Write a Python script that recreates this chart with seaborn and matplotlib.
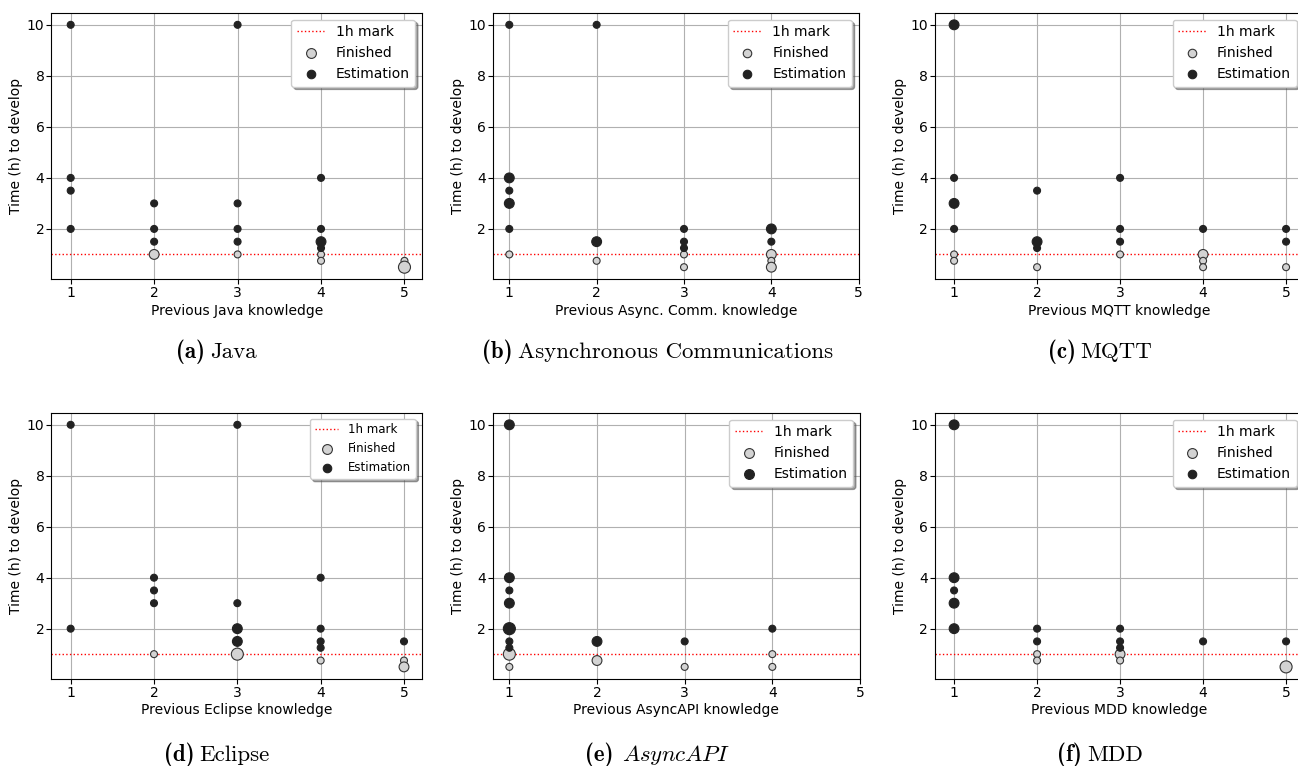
import numpy as np
import seaborn as sns
import matplotlib.pyplot as plt

plt.rcParams['mathtext.fontset'] = 'cm'

# (x = previous knowledge, y = hours, n = how many answers share the point)
java_fin_x = [2, 3, 4, 4, 5, 5]
java_fin_y = [1, 1, 1, 0.75, 0.75, 0.5]
java_fin_n = [2, 1, 1, 1, 1, 3]
java_est_x = [1, 1, 1, 1, 2, 2, 2, 3, 3, 3, 3, 4, 4, 4, 4]
java_est_y = [10, 4, 3.5, 2, 3, 2, 1.5, 10, 3, 2, 1.5, 4, 2, 1.5, 1.25]
java_est_n = [1, 1, 1, 1, 1, 1, 1, 1, 1, 1, 1, 1, 1, 2, 1]

async_fin_x = [1, 2, 3, 3, 4, 4, 4]
async_fin_y = [1, 0.75, 1, 0.5, 1, 0.75, 0.5]
async_fin_n = [1, 1, 1, 1, 2, 1, 2]
async_est_x = [1, 1, 1, 1, 1, 2, 2, 3, 3, 3, 4, 4]
async_est_y = [10, 4, 3.5, 3, 2, 10, 1.5, 2, 1.5, 1.25, 2, 1.5]
async_est_n = [1, 2, 1, 2, 1, 1, 2, 1, 1, 1, 2, 1]

mqtt_fin_x = [1, 1, 2, 3, 4, 4, 4, 5]
mqtt_fin_y = [1, 0.75, 0.5, 1, 1, 0.75, 0.5, 0.5]
mqtt_fin_n = [1, 1, 1, 1, 2, 1, 1, 1]
mqtt_est_x = [1, 1, 1, 1, 2, 2, 2, 3, 3, 3, 4, 5, 5]
mqtt_est_y = [10, 4, 3, 2, 3.5, 1.5, 1.25, 4, 2, 1.5, 2, 2, 1.5]
mqtt_est_n = [2, 1, 2, 1, 1, 2, 1, 1, 1, 1, 1, 1, 1]

eclipse_fin_x = [2, 3, 4, 5, 5]
eclipse_fin_y = [1, 1, 0.75, 0.75, 0.5]
eclipse_fin_n = [1, 3, 1, 1, 2]
eclipse_est_x = [1, 1, 2, 2, 2, 3, 3, 3, 3, 4, 4, 4, 4, 5]
eclipse_est_y = [10, 2, 4, 3.5, 3, 10, 3, 2, 1.5, 4, 2, 1.5, 1.25, 1.5]
eclipse_est_n = [1, 1, 1, 1, 1, 1, 1, 2, 2, 1, 1, 1, 1, 1]

asyncapi_fin_x = [1, 1, 2, 3, 4, 4]
asyncapi_fin_y = [1, 0.5, 0.75, 0.5, 1, 0.5]
asyncapi_fin_n = [3, 1, 2, 1, 1, 1]
asyncapi_est_x = [1, 1, 1, 1, 1, 1, 1, 2, 3, 4]
asyncapi_est_y = [10, 4, 3.5, 3, 2, 1.5, 1.25, 1.5, 1.5, 2]
asyncapi_est_n = [2, 2, 1, 2, 3, 1, 1, 2, 1, 1]

mdd_fin_x = [2, 2, 3, 3, 5]
mdd_fin_y = [1, 0.75, 1, 0.75, 0.5]
mdd_fin_n = [1, 1, 2, 1, 3]
mdd_est_x = [1, 1, 1, 1, 1, 2, 2, 3, 3, 3, 4, 5]
mdd_est_y = [10, 4, 3.5, 3, 2, 2, 1.5, 2, 1.5, 1.25, 1.5, 1.5]
mdd_est_n = [2, 2, 1, 2, 2, 1, 1, 1, 1, 1, 1, 1]

knowledge = ["Java", "Async. Comm.", "MQTT", "Eclipse", "AsyncAPI", "MDD"]
tags = ["(a)", "(b)", "(c)", "(d)", "(e)", "(f)"]
captions = ["Java", "Asynchronous Communications", "MQTT", "Eclipse", r"$AsyncAPI$", "MDD"]
finished = [
    (java_fin_x, java_fin_y, java_fin_n), (async_fin_x, async_fin_y, async_fin_n),
    (mqtt_fin_x, mqtt_fin_y, mqtt_fin_n), (eclipse_fin_x, eclipse_fin_y, eclipse_fin_n),
    (asyncapi_fin_x, asyncapi_fin_y, asyncapi_fin_n), (mdd_fin_x, mdd_fin_y, mdd_fin_n),
]
estimation = [
    (java_est_x, java_est_y, java_est_n), (async_est_x, async_est_y, async_est_n),
    (mqtt_est_x, mqtt_est_y, mqtt_est_n), (eclipse_est_x, eclipse_est_y, eclipse_est_n),
    (asyncapi_est_x, asyncapi_est_y, asyncapi_est_n), (mdd_est_x, mdd_est_y, mdd_est_n),
]

W, H = 1298, 766
fig = plt.figure(figsize=(W / 100, H / 100), dpi=100)
renderer = fig.canvas.get_renderer()

# axes boxes in pixels: left, top, right, bottom (right column is cropped by the page)
boxes = [
    (51.5, 12.7, 422, 279.3), (492.7, 12.7, 858.7, 279.3), (935, 12.7, 1303.5, 279.3),
    (51.5, 412.7, 421.5, 679), (492.7, 412.7, 860, 679), (935, 412.7, 1303.5, 679),
]
caption_base = [358.5, 358.5, 358.5, 761, 761, 761]

for i in range(6):
    l, t, r, b = boxes[i]
    fin, est = finished[i], estimation[i]
    ax = fig.add_axes([l / W, 1 - b / H, (r - l) / W, (b - t) / H])
    ax.axhline(1, color="red", linestyle=":", linewidth=1, label="1h mark")
    sns.scatterplot(x=fin[0], y=fin[1], s=[25 * n for n in fin[2]],
                    color="#d3d3d3", edgecolor="#333333", linewidth=0.8,
                    label="Finished", zorder=3, ax=ax)
    sns.scatterplot(x=est[0], y=est[1], s=[25 * n for n in est[2]],
                    color="#222222", edgecolor="#222222", linewidth=0.8,
                    label="Estimation", zorder=3, ax=ax)
    ax.set_xticks([1, 2, 3, 4, 5])
    if max(fin[0] + est[0]) < 5:
        ax.set_xlim(0.81, 5.0)
    else:
        ax.set_xlim(0.77, 5.21)
    ax.grid(True, color="#b0b0b0", linewidth=0.8)
    ax.set_xlabel(f"Previous {knowledge[i]} knowledge", fontsize=10, labelpad=2.5)
    ax.set_ylabel("Time (h) to develop", fontsize=10, labelpad=2.5)
    ax.tick_params(labelsize=10, pad=1.5)
    ax.legend(loc="upper right", shadow=True,
              fontsize=8.5 if knowledge[i] == "Eclipse" else 10)

    # sub-figure caption: bold tag + roman text, centred under the sub-figure
    cx = l + 165
    yb = 1 - caption_base[i] / H
    tag = fig.text(0, yb, tags[i], family="cmb10", fontsize=16.5, va="baseline")
    body = fig.text(0, yb, captions[i], family="cmr10", fontsize=16.5, va="baseline")
    w1 = tag.get_window_extent(renderer).width
    w2 = body.get_window_extent(renderer).width
    gap = 5 if i != 4 else 9
    x0 = cx - (w1 + gap + w2) / 2
    tag.set_x(x0 / W)
    body.set_x((x0 + w1 + gap) / W)

fig.savefig("out.png", dpi=100)
